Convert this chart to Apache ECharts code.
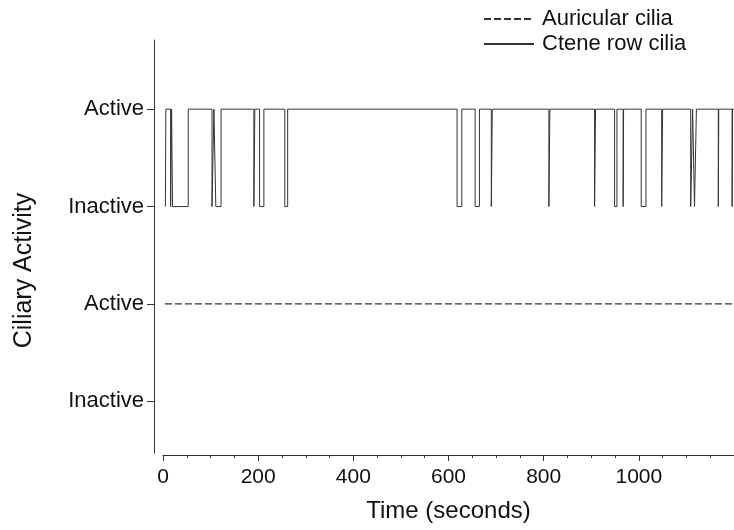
<!DOCTYPE html>
<html>
<head>
<meta charset="utf-8">
<script src="https://cdn.jsdelivr.net/npm/echarts@6/dist/echarts.min.js"></script>
<style>
html,body{margin:0;padding:0;background:#fff;}
#chart{width:734px;height:530px;}
</style>
</head>
<body>
<div id="chart"></div>
<script>
// Y levels: 0 = Auricular Inactive, 1 = Auricular Active, 2 = Ctene Inactive, 3 = Ctene Active
var yTickValues = [0, 1, 2, 3];
var yTickLabels = ['Inactive', 'Active', 'Inactive', 'Active'];
var xTickLabels = ['0', '200', '400', '600', '800', '1000'];

// Ctene row cilia: state starting at each time (seconds)
var cteneTimes  = [5, 6, 16, 18, 20, 53, 103, 107, 111, 122, 191, 193, 203, 212, 256, 262,
                   618, 628, 656, 665, 690, 692, 811, 813, 907, 909, 949, 954, 967, 968,
                   1005, 1015, 1048, 1050, 1109, 1113, 1117, 1121, 1167, 1168, 1196, 1197, 1200];
var cteneStates = [2, 3, 2, 3, 2, 3, 2, 3, 2, 3, 2, 3, 2, 3, 2, 3,
                   2, 3, 2, 3, 2, 3, 2, 3, 2, 3, 2, 3, 2, 3,
                   2, 3, 2, 3, 2, 3, 2, 3, 2, 3, 2, 3, 3];

// Auricular cilia: active throughout
var auricTimes  = [4, 1200];
var auricStates = [1, 1];

function zip(a, b) { return a.map(function (v, i) { return [v, b[i]]; }); }

var font = 'Liberation Sans, Arial, sans-serif';
var chart = echarts.init(document.getElementById('chart'), null, {renderer: 'canvas'});
chart.setOption({
  animation: false,
  backgroundColor: '#ffffff',
  grid: {left: 163, right: 0, top: 40, bottom: 77, containLabel: false, outerBoundsMode: 'none'},
  legend: {
    orient: 'vertical',
    left: 478,
    top: 3,
    itemWidth: 50,
    itemHeight: 14,
    itemGap: 3,
    itemStyle: {opacity: 0},
    textStyle: {fontFamily: font, fontSize: 22, color: '#111', padding: [0, 0, 0, 3]},
    data: ['Auricular cilia', 'Ctene row cilia']
  },
  xAxis: {
    type: 'value',
    min: 0,
    max: 1200,
    interval: 200,
    offset: 2,
    splitLine: {show: false},
    axisLine: {onZero: false, lineStyle: {color: '#333', width: 1}},
    axisTick: {show: true, inside: false, length: 6, lineStyle: {color: '#333'}},
    minorTick: {show: true, splitNumber: 4, length: 3, lineStyle: {color: '#333'}},
    axisLabel: {
      fontFamily: font, fontSize: 21, color: '#111', margin: 12,
      formatter: function (v) { var i = Math.round(v / 200); return (v % 200 === 0 && i < xTickLabels.length) ? xTickLabels[i] : ''; }
    },
    name: 'Time (seconds)',
    nameLocation: 'middle',
    nameGap: 44,
    nameTextStyle: {fontFamily: font, fontSize: 24, color: '#111'}
  },
  yAxis: {
    type: 'value',
    min: -0.53,
    max: 3.71,
    offset: 9,
    splitLine: {show: false},
    axisLine: {show: true, onZero: false, lineStyle: {color: '#333', width: 1}},
    axisTick: {show: true, inside: false, length: 7, customValues: yTickValues, lineStyle: {color: '#333'}},
    axisLabel: {
      fontFamily: font, fontSize: 22, color: '#111', margin: 10,
      customValues: yTickValues,
      formatter: function (v) { var i = yTickValues.indexOf(Math.round(v)); return i >= 0 ? yTickLabels[i] : ''; }
    },
    name: 'Ciliary Activity',
    nameLocation: 'middle',
    nameGap: 117,
    nameTextStyle: {fontFamily: font, fontSize: 25, color: '#111', padding: [0, 48, 0, 0]}
  },
  series: [
    {
      name: 'Auricular cilia',
      type: 'line',
      symbol: 'none',
      data: zip(auricTimes, auricStates),
      lineStyle: {color: '#333', width: 1.2, type: [7, 3]},
      itemStyle: {color: '#333'}
    },
    {
      name: 'Ctene row cilia',
      type: 'line',
      symbol: 'none',
      step: 'end',
      data: zip(cteneTimes, cteneStates),
      lineStyle: {color: '#333', width: 1},
      itemStyle: {color: '#333'}
    }
  ]
});
</script>
</body>
</html>
